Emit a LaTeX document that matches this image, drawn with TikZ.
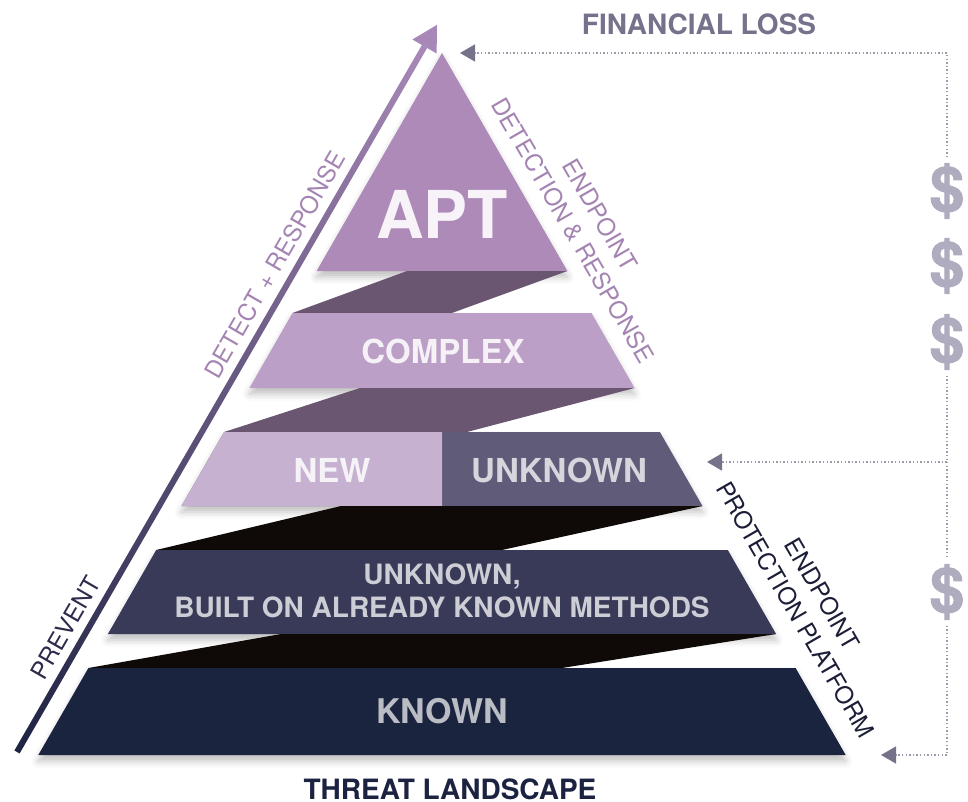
\documentclass[tikz,border=0pt]{standalone}
\usepackage{fontspec}
\setmainfont{TeX Gyre Heros}
\usetikzlibrary{calc,arrows.meta,shadows.blur}

\begin{document}
\begin{tikzpicture}[x=1pt,y=-1pt,
    layer/.style={blur shadow={shadow xshift=0pt,shadow yshift=-6pt,shadow blur radius=7pt,shadow opacity=25}},
    layertext/.style={font=\bfseries\fontsize{33}{33}\selectfont},
    sidetext/.style={font=\fontsize{24}{31}\selectfont,align=center,inner sep=0pt},
    lossline/.style={draw=dotcol,line width=1.4pt,dash pattern=on 1.4pt off 2.2pt},
    losstip/.style={-{Triangle[length=15pt,width=17pt,color=tipcol]}},
    dollar/.style={font=\bfseries\fontsize{62}{62}\selectfont\addfontfeature{FakeBold=1.5},text=dollarcol,inner sep=6pt}]

    \definecolor{aptcol}{HTML}{AD8AB8}
    \definecolor{complexcol}{HTML}{BB9FC6}
    \definecolor{newcol}{HTML}{C6B1D1}
    \definecolor{unkcol}{HTML}{5F5B78}
    \definecolor{builtcol}{HTML}{383A58}
    \definecolor{knowncol}{HTML}{1B243F}
    \definecolor{bandhi}{HTML}{6B5672}
    \definecolor{bandlo}{HTML}{0F0A07}
    \definecolor{arrowtop}{HTML}{A888B8}
    \definecolor{arrowmid}{HTML}{7A6290}
    \definecolor{arrowbot}{HTML}{1E2342}
    \definecolor{detcol}{HTML}{A484B2}
    \definecolor{prevcol}{HTML}{2D2A4C}
    \definecolor{eppcol}{HTML}{1C1E37}
    \definecolor{losscol}{HTML}{77728B}
    \definecolor{dotcol}{HTML}{9C99AB}
    \definecolor{tipcol}{HTML}{76728A}
    \definecolor{dollarcol}{HTML}{AEACBE}
    \definecolor{threatcol}{HTML}{1C2341}

    \useasboundingbox (0,0) rectangle (968,802);

    % pyramid, top to bottom
    \fill[aptcol,layer] (442,53) -- (567.4,271) -- (316.6,271) -- cycle;
    \fill[bandhi] (407,271) -- (567.4,271) -- (452,313) -- (292.5,313) -- cycle;
    \fill[complexcol,layer] (292.5,313) -- (591.5,313) -- (634.6,388) -- (249.4,388) -- cycle;
    \fill[bandhi] (360,388) -- (634.6,388) -- (467,432) -- (224.1,432) -- cycle;
    \fill[unkcol,layer] (224.1,432) -- (659.9,432) -- (702.5,506) -- (181.5,506) -- cycle;
    \fill[newcol] (224.1,432) -- (442,432) -- (442,506) -- (181.5,506) -- cycle;
    \fill[bandlo] (341,506) -- (702.5,506) -- (502,550) -- (156.2,550) -- cycle;
    \fill[builtcol,layer] (156.2,550) -- (727.8,550) -- (776.1,634) -- (107.9,634) -- cycle;
    \fill[bandlo] (281,634) -- (776.1,634) -- (562,668) -- (88.4,668) -- cycle;
    \fill[knowncol,layer] (88.4,668) -- (795.6,668) -- (845.7,755) -- (38.3,755) -- cycle;

    \node[text=white!90!aptcol,font=\bfseries\fontsize{66}{66}\selectfont] (apt) at (442,214) {APT};
    \node[layertext,text=white!85!complexcol] (complex) at (443,351) {COMPLEX};
    \node[layertext,text=white!85!newcol] (new) at (332,470) {NEW};
    \node[layertext,text=white!75!unkcol] (unknown) at (559,470) {UNKNOWN};
    \node[text=white!75!builtcol,font=\bfseries\fontsize{28}{33}\selectfont,align=center] (built) at (442,591) {UNKNOWN,\\BUILT ON ALREADY KNOWN METHODS};
    \node[text=white!70!knowncol,font=\bfseries\fontsize{34}{34}\selectfont] (known) at (442,711) {KNOWN};

    % prevent / detect arrow
    \coordinate (pvS) at (17,752);
    \coordinate (pvE) at (424.5,46.5);
    \shade[top color=arrowtop,middle color=arrowmid,bottom color=arrowbot]
        ($(pvS)!3pt!90:(pvE)$) -- ($(pvE)!3pt!-90:(pvS)$) -- ($(pvE)!3pt!90:(pvS)$) -- ($(pvS)!3pt!-90:(pvE)$) -- cycle;
    \fill[arrowtop] ($(pvE)!14pt!90:(pvS)$) -- ($(pvE)!-25pt!(pvS)$) -- ($(pvE)!14pt!-90:(pvS)$) -- cycle;
    \path (pvS) -- (pvE)
        node[pos=0.162,sloped,above=11pt,sidetext,text=prevcol] (prevent) {PREVENT}
        node[pos=0.676,sloped,above=11pt,sidetext,text=detcol] (detect) {DETECT + RESPONSE};

    \node[sidetext,text=detcol,rotate=-60] (edr) at (586.5,222.5) {ENDPOINT\\DETECTION \& RESPONSE};
    \node[sidetext,text=eppcol,rotate=-60] (epp) at (809,602) {ENDPOINT\\PROTECTION PLATFORM};

    \node[font=\bfseries\fontsize{28}{28}\selectfont,text=losscol,inner sep=1pt] (loss) at (699,24) {FINANCIAL LOSS};
    \node[font=\bfseries\fontsize{28}{28}\selectfont,text=threatcol,inner sep=1pt] (threat) at (450,789) {THREAT LANDSCAPE};

    % financial loss scale
    \node[dollar] (d1) at (947,191) {\$};
    \node[dollar] (d2) at (947,266) {\$};
    \node[dollar] (d3) at (947,342) {\$};
    \node[dollar] (d4) at (947,592) {\$};
    \coordinate (lossTop) at (947,53);
    \coordinate (aptTip) at (460,53);
    \coordinate (branch) at (947,462);
    \coordinate (eppTip) at (707,462);
    \coordinate (lossBot) at (947,755);
    \coordinate (knownTip) at (881,755);
    \draw[lossline,losstip] (d1.north) -- (lossTop) -- (aptTip);
    \draw[lossline,losstip] (d3.south) -- (branch) -- (eppTip);
    \draw[lossline] (branch) -- (d4.north);
    \draw[lossline,losstip] (d4.south) -- (lossBot) -- (knownTip);

\end{tikzpicture}
\end{document}
